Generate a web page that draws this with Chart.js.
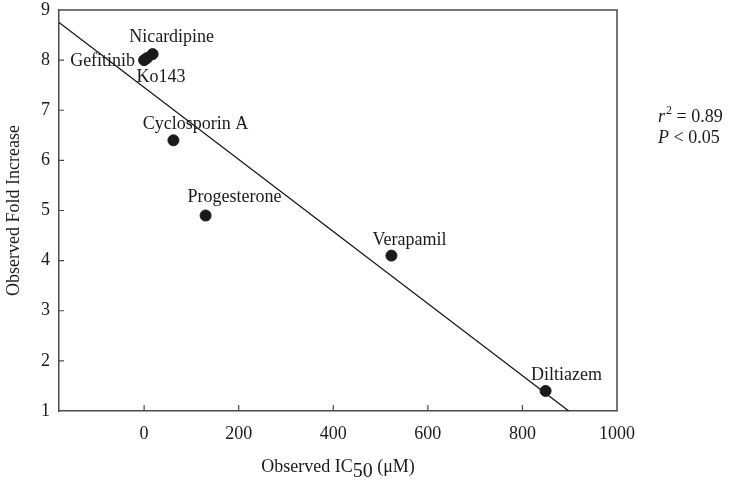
<!DOCTYPE html>
<html>
<head>
<meta charset="utf-8">
<script src="https://cdn.jsdelivr.net/npm/chart.js@4.4.0/dist/chart.umd.min.js"></script>
<style>
html,body{margin:0;padding:0;background:#fff;}
#wrap{width:730px;height:483px;position:relative;}
</style>
</head>
<body>
<div id="wrap"><canvas id="c"></canvas></div>
<script>
// ---- data ----
const drugNames = ["Gefitinib", "Ko143", "Nicardipine", "Cyclosporin A", "Progesterone", "Verapamil", "Diltiazem"];
const ic50Values = [0, 6, 18, 62, 130, 523, 849];
const foldValues = [8.0, 8.04, 8.12, 6.4, 4.9, 4.1, 1.4];
const fitLineX = [-180, 898];
const fitLineY = [8.75, 1.0];
const xTickValues = [0, 200, 400, 600, 800, 1000];
const yTickValues = [1, 2, 3, 4, 5, 6, 7, 8, 9];
const xTickMarks = [0, 200, 400, 600, 800];
const yTickMarks = [2, 3, 4, 5, 6, 7, 8];

// ---- label placement (offsets in px from the point) ----
const labelOffsets = {
  "Gefitinib": {dx: -9, dy: 1, align: "right"},
  "Ko143": {dx: 14, dy: 19, align: "center"},
  "Nicardipine": {dx: 19, dy: -17, align: "center"},
  "Cyclosporin A": {dx: 22, dy: -16, align: "center"},
  "Progesterone": {dx: 29, dy: -18, align: "center"},
  "Verapamil": {dx: 18, dy: -15, align: "center"},
  "Diltiazem": {dx: 21, dy: -16, align: "center"}
};

const FONT = "'Liberation Serif', 'DejaVu Serif', serif";
const INK = "#1a1a1a";
const AXIS = "#4a4a4a";

const points = ic50Values.map((x, i) => ({x: x, y: foldValues[i]}));
const linePts = fitLineX.map((x, i) => ({x: x, y: fitLineY[i]}));

const decor = {
  id: "decor",
  afterDatasetsDraw(chart) {
    const ctx = chart.ctx;
    const a = chart.chartArea;
    const xs = chart.scales.x, ys = chart.scales.y;
    ctx.save();
    // frame top & right
    ctx.strokeStyle = AXIS;
    ctx.lineWidth = 1.5;
    ctx.beginPath();
    ctx.moveTo(a.left, a.top);
    ctx.lineTo(a.right, a.top);
    ctx.lineTo(a.right, a.bottom);
    ctx.stroke();
    // inward ticks
    ctx.lineWidth = 1.2;
    ctx.beginPath();
    xTickMarks.forEach(v => {
      const px = xs.getPixelForValue(v);
      ctx.moveTo(px, a.bottom);
      ctx.lineTo(px, a.bottom - 6);
    });
    yTickMarks.forEach(v => {
      const py = ys.getPixelForValue(v);
      ctx.moveTo(a.left, py);
      ctx.lineTo(a.left + 5, py);
    });
    ctx.stroke();
    // point labels
    ctx.fillStyle = INK;
    ctx.font = "18px " + FONT;
    ctx.textBaseline = "middle";
    drugNames.forEach((name, i) => {
      const o = labelOffsets[name];
      const px = xs.getPixelForValue(ic50Values[i]);
      const py = ys.getPixelForValue(foldValues[i]);
      ctx.textAlign = o.align;
      ctx.fillText(name, px + o.dx, py + o.dy);
    });
    // y axis title
    ctx.save();
    ctx.translate(14, (a.top + a.bottom) / 2);
    ctx.rotate(-Math.PI / 2);
    ctx.textAlign = "center";
    ctx.textBaseline = "middle";
    ctx.font = "18px " + FONT;
    ctx.fillText("Observed Fold Increase", 0, 0);
    ctx.restore();
    // x axis title with subscript
    const parts = [
      {t: "Observed IC", f: "18px " + FONT, dy: 0},
      {t: "50", f: "20px " + FONT, dy: 5},
      {t: " (\u03BCM)", f: "18px " + FONT, dy: 0}
    ];
    let total = 0;
    parts.forEach(p => { ctx.font = p.f; p.w = ctx.measureText(p.t).width; total += p.w; });
    let cx = (a.left + a.right) / 2 - total / 2;
    const by = 472;
    ctx.textAlign = "left";
    ctx.textBaseline = "alphabetic";
    parts.forEach(p => { ctx.font = p.f; ctx.fillText(p.t, cx, by + p.dy); cx += p.w; });
    // stats annotation
    let sx = 658;
    ctx.font = "italic 18px " + FONT;
    ctx.fillText("r", sx, 122);
    sx += ctx.measureText("r").width + 1;
    ctx.font = "12px " + FONT;
    ctx.fillText("2", sx, 114);
    sx += ctx.measureText("2").width;
    ctx.font = "18px " + FONT;
    ctx.fillText(" = 0.89", sx, 122);
    let px2 = 658;
    ctx.font = "italic 18px " + FONT;
    ctx.fillText("P", px2, 143);
    px2 += ctx.measureText("P").width;
    ctx.font = "18px " + FONT;
    ctx.fillText(" < 0.05", px2, 143);
    ctx.restore();
  }
};

new Chart(document.getElementById("c"), {
  type: "scatter",
  data: {
    datasets: [
      {
        type: "line",
        data: linePts,
        borderColor: "#111",
        borderWidth: 1.2,
        pointRadius: 0,
        fill: false,
        tension: 0,
        order: 2
      },
      {
        data: points,
        backgroundColor: "#1a1a1a",
        borderColor: "#1a1a1a",
        pointRadius: 5.5,
        pointHoverRadius: 5.5,
        order: 1
      }
    ]
  },
  options: {
    responsive: true,
    maintainAspectRatio: false,
    animation: false,
    events: [],
    layout: {padding: {top: 10, right: 113, left: 0, bottom: 0}},
    plugins: {legend: {display: false}, tooltip: {enabled: false}},
    scales: {
      x: {
        type: "linear",
        min: -180,
        max: 1000,
        afterBuildTicks: s => { s.ticks = xTickValues.map(v => ({value: v})); },
        afterFit: s => { s.height = 72; s.paddingLeft = 0; s.paddingRight = 0; },
        grid: {display: false, drawTicks: false},
        border: {display: true, color: AXIS, width: 1.5},
        ticks: {padding: 12, color: INK, font: {family: FONT, size: 18}, maxRotation: 0,
                callback: v => String(v)}
      },
      y: {
        type: "linear",
        min: 1,
        max: 9,
        afterBuildTicks: s => { s.ticks = yTickValues.map(v => ({value: v})); },
        afterFit: s => { s.width = 59; s.paddingTop = 0; s.paddingBottom = 0; },
        grid: {display: false, drawTicks: false},
        border: {display: true, color: AXIS, width: 1.5},
        ticks: {padding: 9, color: INK, font: {family: FONT, size: 18}, callback: v => String(v)}
      }
    }
  },
  plugins: [decor]
});
</script>
</body>
</html>
